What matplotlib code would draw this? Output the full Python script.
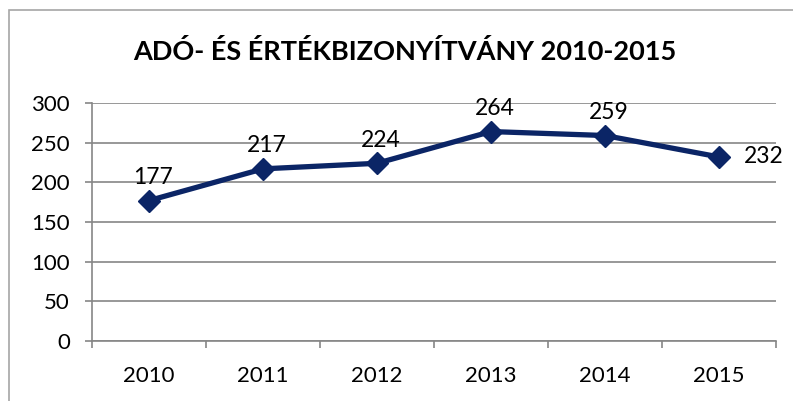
import matplotlib
matplotlib.use('agg')
import matplotlib.pyplot as plt
from matplotlib.patches import Rectangle

years = ['2010', '2011', '2012', '2013', '2014', '2015']
values = [177, 217, 224, 264, 259, 232]
title = 'ADÓ- ÉS ÉRTÉKBIZONYÍTVÁNY 2010-2015'

plt.rcParams['font.family'] = ['Lato', 'DejaVu Sans']

W, H = 793, 401
fig = plt.figure(figsize=(W / 100, H / 100), dpi=100)
ax = fig.add_axes([92 / W, 1 - 341 / H, (776 - 92) / W, (341 - 103) / H])

# chart frame (left and top edges visible)
fig.patches.append(Rectangle((9 / W, -0.1), 1.2, 1 - 10 / H + 0.1, transform=fig.transFigure,
                             fill=False, edgecolor='#A6A6A6', linewidth=1.2))

line_color = '#0B2566'
x = list(range(len(years)))
ax.plot(x, values, color=line_color, linewidth=3.8, marker='D', markersize=11, zorder=3)

for i, v in enumerate(values):
    if i == len(values) - 1:
        ax.annotate(str(v), (i, v), xytext=(18, 0), textcoords='offset points',
                    ha='left', va='center', fontsize=16.5)
    else:
        ax.annotate(str(v), (i, v), xytext=(3, 9), textcoords='offset points',
                    ha='center', va='bottom', fontsize=16.5)

ax.set_xlim(-0.5, len(years) - 0.5)
ax.set_ylim(0, 300)
ax.set_yticks(range(0, 301, 50))
ax.yaxis.grid(True, color='#868686', linewidth=1.2)
ax.set_axisbelow(True)

ax.set_xticks(x)
ax.set_xticklabels(years)
ax.set_xticks([i - 0.5 for i in range(len(years) + 1)], minor=True)
ax.tick_params(axis='x', which='major', length=0, pad=18, labelsize=16)
ax.tick_params(axis='x', which='minor', length=5, width=1.2, color='#868686')
ax.tick_params(axis='y', length=5, width=1.2, color='#868686', pad=11, labelsize=16)

for side in ['top', 'right']:
    ax.spines[side].set_visible(False)
for side in ['left', 'bottom']:
    ax.spines[side].set_color('#868686')
    ax.spines[side].set_linewidth(1.2)

fig.text(0.51, 1 - 52 / H, title, ha='center', va='center', fontsize=19.5, fontweight='bold')

fig.savefig('out.png', dpi=100)
